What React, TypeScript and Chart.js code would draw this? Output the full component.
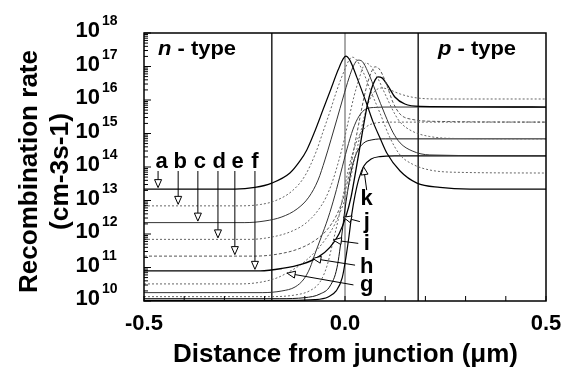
import { useEffect, useRef } from 'react';
import { Chart, registerables } from 'chart.js';

Chart.register(...registerables);

// ---- data: distance from junction (µm) and log10 of recombination rate (cm-3 s-1) ----
const aX = [-0.5, -0.274, -0.224, -0.182, -0.137, -0.112, -0.095, -0.075, -0.055, -0.035, -0.017, -0.005, 0.002, 0.012, 0.03, 0.055, 0.07, 0.087, 0.104, 0.137, 0.179, 0.236, 0.311, 0.5];
const aLog = [13.34, 13.34, 13.39, 13.52, 13.82, 14.18, 14.51, 15.07, 15.7, 16.33, 16.9, 17.22, 17.31, 17.19, 16.66, 15.85, 15.34, 14.87, 14.42, 13.88, 13.52, 13.39, 13.34, 13.34];

const bX = [-0.5, -0.261, -0.211, -0.174, -0.132, -0.1, -0.072, -0.055, -0.037, -0.02, -0.002, 0.01, 0.017, 0.027, 0.045, 0.065, 0.087, 0.112, 0.137, 0.167, 0.211, 0.286, 0.5];
const bLog = [12.84, 12.84, 12.88, 12.99, 13.28, 13.73, 14.45, 15.04, 15.67, 16.3, 16.87, 17.19, 17.28, 17.22, 16.84, 16.24, 15.61, 14.87, 14.36, 14.09, 13.91, 13.84, 13.82];

const cX = [-0.5, -0.249, -0.199, -0.157, -0.119, -0.09, -0.067, -0.05, -0.035, -0.02, -0.005, 0.01, 0.022, 0.032, 0.042, 0.057, 0.077, 0.1, 0.119, 0.137, 0.167, 0.211, 0.5];
const cLog = [12.34, 12.34, 12.39, 12.51, 12.75, 13.1, 13.61, 14.21, 14.81, 15.43, 16.06, 16.66, 17.04, 17.19, 17.16, 16.84, 16.24, 15.55, 15.04, 14.72, 14.48, 14.36, 14.33];

const dX = [-0.5, -0.236, -0.182, -0.137, -0.1, -0.07, -0.047, -0.03, -0.015, -0.002, 0.01, 0.022, 0.035, 0.045, 0.052, 0.062, 0.08, 0.102, 0.124, 0.137, 0.167, 0.211, 0.286, 0.5];
const dLog = [11.84, 11.84, 11.91, 12.06, 12.3, 12.66, 13.1, 13.61, 14.21, 14.81, 15.46, 16.09, 16.63, 16.99, 17.1, 17.04, 16.69, 16.12, 15.58, 15.34, 15.07, 14.91, 14.85, 14.84];

const eX = [-0.5, -0.224, -0.167, -0.117, -0.077, -0.045, -0.022, -0.005, 0.007, 0.017, 0.027, 0.037, 0.047, 0.057, 0.067, 0.075, 0.085, 0.102, 0.119, 0.137, 0.167, 0.236, 0.5];
const eLog = [11.34, 11.34, 11.4, 11.55, 11.79, 12.12, 12.54, 13.04, 13.61, 14.21, 14.84, 15.46, 16.06, 16.54, 16.87, 16.99, 16.93, 16.51, 15.94, 15.58, 15.42, 15.36, 15.34];

const fX = [-0.5, -0.211, -0.157, -0.107, -0.067, -0.037, -0.015, 0.002, 0.015, 0.025, 0.035, 0.045, 0.055, 0.065, 0.075, 0.082, 0.092, 0.107, 0.124, 0.149, 0.187, 0.5];
const fLog = [10.9, 10.9, 10.97, 11.1, 11.31, 11.61, 12.0, 12.51, 13.1, 13.76, 14.45, 15.16, 15.82, 16.3, 16.6, 16.69, 16.66, 16.42, 16.09, 15.88, 15.81, 15.79];

const gX = [-0.5, -0.261, -0.206, -0.167, -0.144, -0.112, -0.08, -0.05, -0.025, -0.005, 0.01, 0.022, 0.035, 0.047, 0.06, 0.075, 0.092, 0.112, 0.137, 0.174, 0.236, 0.5];
const gLog = [10.51, 10.51, 10.57, 10.7, 10.84, 11.07, 11.4, 11.82, 12.3, 12.87, 13.46, 14.12, 14.81, 15.46, 15.97, 16.27, 16.36, 16.3, 16.18, 16.07, 16.03, 16.03];

const hX = [-0.5, -0.206, -0.157, -0.124, -0.102, -0.087, -0.075, -0.06, -0.042, -0.025, -0.01, 0.005, 0.02, 0.035, 0.052, 0.077, 0.112, 0.5];
const hLog = [10.25, 10.25, 10.3, 10.42, 10.66, 10.99, 11.4, 11.88, 12.48, 13.16, 13.85, 14.54, 15.13, 15.52, 15.73, 15.78, 15.79, 15.79];

const iX = [-0.5, -0.187, -0.124, -0.087, -0.062, -0.045, -0.03, -0.017, -0.005, 0.007, 0.02, 0.035, 0.052, 0.075, 0.112, 0.5];
const iLog = [10.13, 10.13, 10.18, 10.31, 10.57, 11.04, 11.76, 12.42, 13.13, 13.85, 14.45, 14.93, 15.19, 15.31, 15.34, 15.34];

const jX = [-0.5, -0.162, -0.1, -0.062, -0.037, -0.02, -0.007, -0.002, 0.007, 0.017, 0.03, 0.047, 0.067, 0.1, 0.5];
const jLog = [10.07, 10.07, 10.1, 10.21, 10.45, 10.99, 12.06, 12.57, 13.31, 13.97, 14.45, 14.72, 14.81, 14.84, 14.84];

const kX = [-0.5, -0.137, -0.075, -0.042, -0.022, -0.007, 0.002, 0.01, 0.017, 0.025, 0.035, 0.047, 0.065, 0.087, 0.124, 0.5];
const kLog = [10.02, 10.02, 10.04, 10.12, 10.3, 10.69, 11.28, 11.94, 12.6, 13.16, 13.67, 14.03, 14.24, 14.31, 14.33, 14.33];

// region boundaries (µm)
const depletionEdges = [-0.182, 0.182];
const junctionPos = [0];

// axis ticks
const yExponents = [10, 11, 12, 13, 14, 15, 16, 17, 18];
const xTickValues = [-0.5, 0, 0.5];
const xTickLabels = ['-0.5', '0.0', '0.5'];
const xMinorTicks = [-0.4, -0.3, -0.2, -0.1, 0.1, 0.2, 0.3, 0.4];

// curve labels on the n side (arrows pointing down onto the plateaus)
const nLabels = ['a', 'b', 'c', 'd', 'e', 'f'];
const nLabelX = [-0.456, -0.41, -0.361, -0.313, -0.267, -0.224];
const nArrowX = [-0.465, -0.415, -0.366, -0.316, -0.274, -0.224];
const nLabelBaseLog = 13.97;

// curve labels near the junction
const jLabels = ['k', 'j', 'i', 'h', 'g'];
const jLabelX = 0.054;
const jLabelBaseLog = [12.87, 12.18, 11.52, 10.84, 10.3];
const jLeadStartX = [0.054, 0.037, 0.033, 0.025, 0.021];
const jLeadStartLog = [13.31, 12.37, 11.72, 11.07, 10.48];
const jTipX = [0.046, -0.004, -0.029, -0.08, -0.144];
const jTipLog = [14.01, 12.5, 11.82, 11.27, 10.83];

const FONT = '"Liberation Sans", Arial, Helvetica, sans-serif';

type Curve = { name: string; x: number[]; log: number[] };
const curves: Curve[] = [
  { name: 'a', x: aX, log: aLog },
  { name: 'b', x: bX, log: bLog },
  { name: 'c', x: cX, log: cLog },
  { name: 'd', x: dX, log: dLog },
  { name: 'e', x: eX, log: eLog },
  { name: 'f', x: fX, log: fLog },
  { name: 'g', x: gX, log: gLog },
  { name: 'h', x: hX, log: hLog },
  { name: 'i', x: iX, log: iLog },
  { name: 'j', x: jX, log: jLog },
  { name: 'k', x: kX, log: kLog },
];

const curveStyle: Record<string, { color: string; width: number; dash: number[] }> = {
  a: { color: '#000', width: 1.2, dash: [] },
  b: { color: '#666', width: 1, dash: [2, 2] },
  c: { color: '#333', width: 1, dash: [] },
  d: { color: '#666', width: 1, dash: [2, 2] },
  e: { color: '#555', width: 1, dash: [3, 2] },
  f: { color: '#000', width: 1.3, dash: [] },
  g: { color: '#666', width: 1, dash: [2, 2] },
  h: { color: '#333', width: 1, dash: [] },
  i: { color: '#666', width: 1, dash: [2, 2] },
  j: { color: '#111', width: 1, dash: [] },
  k: { color: '#000', width: 1.2, dash: [] },
};

function drawArrow(ctx: CanvasRenderingContext2D, sx: number, sy: number, tx: number, ty: number) {
  const dx = tx - sx;
  const dy = ty - sy;
  const len = Math.hypot(dx, dy) || 1;
  const ux = dx / len;
  const uy = dy / len;
  const h = 8;
  const w = 3.5;
  const bx = tx - ux * h;
  const by = ty - uy * h;
  ctx.beginPath();
  ctx.moveTo(sx, sy);
  ctx.lineTo(bx, by);
  ctx.stroke();
  ctx.beginPath();
  ctx.moveTo(tx, ty);
  ctx.lineTo(bx - uy * w, by + ux * w);
  ctx.lineTo(bx + uy * w, by - ux * w);
  ctx.closePath();
  ctx.fillStyle = '#fff';
  ctx.fill();
  ctx.stroke();
}

function drawFitted(
  ctx: CanvasRenderingContext2D,
  segs: { text: string; font: string }[],
  cx: number,
  cy: number,
  targetW: number,
) {
  let total = 0;
  const widths = segs.map((s) => {
    ctx.font = s.font;
    const w = ctx.measureText(s.text).width;
    total += w;
    return w;
  });
  const sc = targetW / total;
  ctx.save();
  ctx.translate(cx, cy);
  ctx.scale(sc, 1);
  let x = -total / 2;
  ctx.textAlign = 'left';
  segs.forEach((s, i) => {
    ctx.font = s.font;
    ctx.fillText(s.text, x, 0);
    x += widths[i];
  });
  ctx.restore();
}

const decor = {
  id: 'decor',
  afterDraw(chart: any) {
    const { ctx, chartArea: ca, scales } = chart;
    const xs = scales.x;
    const ys = scales.y;
    const px = (v: number) => xs.getPixelForValue(v);
    const py = (l: number) => ys.getPixelForValue(Math.pow(10, l));
    ctx.save();
    ctx.fillStyle = '#000';
    ctx.strokeStyle = '#000';

    // frame
    ctx.lineWidth = 1.5;
    ctx.strokeRect(ca.left, ca.top, ca.right - ca.left, ca.bottom - ca.top);

    // y ticks (inside)
    ctx.lineWidth = 1;
    yExponents.forEach((e) => {
      const y = py(e);
      ctx.beginPath();
      ctx.moveTo(ca.left, y);
      ctx.lineTo(ca.left + 7, y);
      ctx.stroke();
      if (e < 18) {
        for (let m = 2; m <= 9; m++) {
          const ym = ys.getPixelForValue(m * Math.pow(10, e));
          ctx.beginPath();
          ctx.moveTo(ca.left, ym);
          ctx.lineTo(ca.left + 4, ym);
          ctx.stroke();
        }
      }
    });
    // x ticks (inside)
    [...xTickValues, ...xMinorTicks].forEach((v) => {
      const x = px(v);
      ctx.beginPath();
      ctx.moveTo(x, ca.bottom);
      ctx.lineTo(x, ca.bottom - 5);
      ctx.stroke();
    });

    // y tick labels 10^n
    yExponents.forEach((e) => {
      const y = py(e);
      ctx.font = `bold 22px ${FONT}`;
      ctx.textAlign = 'right';
      ctx.textBaseline = 'alphabetic';
      ctx.fillText('10', 100, y + 4);
      ctx.font = `bold 14px ${FONT}`;
      ctx.textAlign = 'left';
      ctx.fillText(String(e), 102, y - 8);
    });

    // x tick labels
    ctx.font = `bold 22px ${FONT}`;
    ctx.textAlign = 'center';
    xTickValues.forEach((v, i) => {
      ctx.fillText(xTickLabels[i], px(v), 330);
    });

    // axis titles
    drawFitted(ctx, [{ text: 'Distance from junction (μm)', font: `bold 25px ${FONT}` }], 345.5, 362, 345);
    ctx.save();
    ctx.translate(37, 171.5);
    ctx.rotate(-Math.PI / 2);
    drawFitted(ctx, [{ text: 'Recombination rate', font: `bold 25px ${FONT}` }], 0, 0, 243);
    ctx.restore();
    ctx.save();
    ctx.translate(68, 171.5);
    ctx.rotate(-Math.PI / 2);
    drawFitted(ctx, [{ text: '(cm-3s-1)', font: `bold 25px ${FONT}` }], 0, 0, 117);
    ctx.restore();

    // region labels
    drawFitted(
      ctx,
      [
        { text: 'n', font: `italic bold 21px ${FONT}` },
        { text: ' - type', font: `bold 21px ${FONT}` },
      ],
      197,
      55,
      78,
    );
    drawFitted(
      ctx,
      [
        { text: 'p', font: `italic bold 21px ${FONT}` },
        { text: ' - type', font: `bold 21px ${FONT}` },
      ],
      477,
      55,
      78,
    );

    // n-side curve labels with arrows
    ctx.font = `bold 22px ${FONT}`;
    ctx.textAlign = 'center';
    const nBase = py(nLabelBaseLog);
    nLabels.forEach((lab, i) => {
      ctx.fillStyle = '#000';
      ctx.fillText(lab, px(nLabelX[i]), nBase);
    });
    ctx.lineWidth = 1;
    nLabels.forEach((lab, i) => {
      const c = curves.find((cv) => cv.name === lab)!;
      const tipY = py(c.log[0]) - 1.5;
      drawArrow(ctx, px(nArrowX[i]), nBase + 3, px(nArrowX[i]), tipY);
    });

    // junction-side labels with arrows
    jLabels.forEach((lab, i) => {
      ctx.fillStyle = '#000';
      ctx.font = `bold 22px ${FONT}`;
      ctx.textAlign = 'center';
      ctx.fillText(lab, px(jLabelX), py(jLabelBaseLog[i]));
      drawArrow(ctx, px(jLeadStartX[i]), py(jLeadStartLog[i]), px(jTipX[i]), py(jTipLog[i]));
    });

    ctx.restore();
  },
};

export default function App() {
  const ref = useRef<HTMLCanvasElement>(null);
  useEffect(() => {
    const datasets: any[] = curves.map((c) => {
      const st = curveStyle[c.name];
      return {
        label: c.name,
        data: c.x.map((xv, i) => ({ x: xv, y: Math.pow(10, c.log[i]) })),
        borderColor: st.color,
        borderWidth: st.width,
        borderDash: st.dash,
        pointRadius: 0,
        fill: false,
        cubicInterpolationMode: 'monotone',
      };
    });
    depletionEdges.forEach((v) => {
      datasets.push({
        label: 'edge',
        data: [
          { x: v, y: 1e10 },
          { x: v, y: 1e18 },
        ],
        borderColor: '#000',
        borderWidth: 1.3,
        pointRadius: 0,
        fill: false,
      });
    });
    junctionPos.forEach((v) => {
      datasets.push({
        label: 'junction',
        data: [
          { x: v, y: 1e10 },
          { x: v, y: 1e18 },
        ],
        borderColor: '#555',
        borderWidth: 1,
        pointRadius: 0,
        fill: false,
      });
    });

    const chart = new Chart(ref.current!, {
      type: 'line',
      data: { datasets },
      options: {
        animation: false,
        responsive: false,
        devicePixelRatio: 1,
        layout: { padding: { left: 144, top: 33, right: 25, bottom: 72 } },
        plugins: { legend: { display: false }, tooltip: { enabled: false } },
        scales: {
          x: { type: 'linear', min: -0.5, max: 0.5, display: false },
          y: { type: 'logarithmic', min: 1e10, max: 1e18, display: false },
        },
      },
      plugins: [decor],
    } as any);
    return () => chart.destroy();
  }, []);

  return (
    <div style={{ position: 'fixed', left: 0, top: 0, width: 571, height: 373, background: '#fff' }}>
      <canvas ref={ref} width={571} height={373} style={{ width: 571, height: 373, display: 'block' }} />
    </div>
  );
}
